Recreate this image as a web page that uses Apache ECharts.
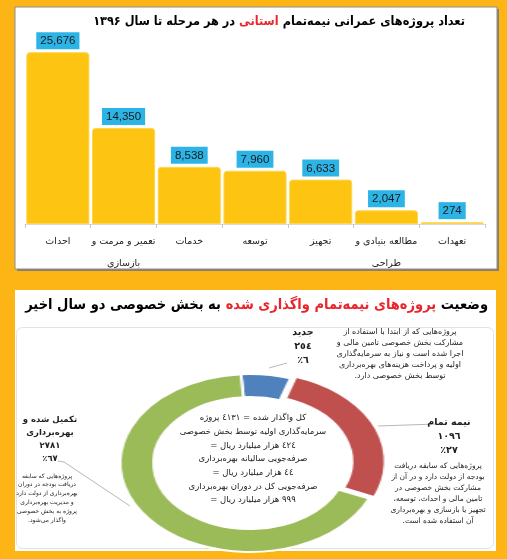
<!DOCTYPE html>
<html><head><meta charset="utf-8">
<script src="https://cdn.jsdelivr.net/npm/echarts@6.0.0/dist/echarts.min.js"></script>
<style>
html,body{margin:0;padding:0;overflow:hidden;background:#FDB515;width:507px;height:559px}
#main{position:absolute;left:0;top:0;width:507px;height:559px}
#donut{position:absolute;left:150px;top:363px;width:200px;height:200px;transform:scaleX(1.46);transform-origin:50% 50%}
</style></head>
<body><div id="main"></div><div id="donut"></div>
<script>
// ---------- data ----------
const barCategories = ['احداث', 'تعمیر و مرمت و\nبازسازی', 'خدمات', 'توسعه', 'تجهیز', 'مطالعه بنیادی و\nطراحی', 'تعهدات'];
const barValues = [25676, 14350, 8538, 7960, 6633, 2047, 274];

const pieNames = ['جدید', 'نیمه تمام', 'تکمیل شده و\nبهره\u200cبرداری'];
const pieValues = [254, 1096, 2781];
const pieColors = ['#4F81BD', '#C0504D', '#9BBB59'];

const summaryFigures = [424, 44, 999]; // هزار میلیارد ریال

// title pieces in reading order (right to left); the middle one is red
const title1 = ['تعداد پروژه\u200cهای عمرانی نیمه\u200cتمام', 'استانی', 'در هر مرحله تا سال ۱۳۹۶'];
const title2 = ['وضعیت', 'پروژه\u200cهای نیمه\u200cتمام واگذاری شده', 'به بخش خصوصی دو سال اخیر'];

const RLM = '\u200F';
const noteNew = 'پروژه\u200cهایی که از ابتدا با استفاده از\nمشارکت بخش خصوصی تامین مالی و\nاجرا شده است و نیاز به سرمایه\u200cگذاری\nاولیه و پرداخت هزینه\u200cهای بهره\u200cبرداری\nتوسط بخش خصوصی دارد.' + RLM;
const noteHalf = 'پروژه\u200cهایی که سابقه دریافت\nبودجه از دولت دارد و در آن از\nمشارکت بخش خصوصی در\nتامین مالی و احداث، توسعه،' + RLM + '\nتجهیز یا بازسازی و بهره\u200cبرداری\nآن استفاده شده است.' + RLM;
const noteDone = 'پروژه\u200cهایی که سابقه\nدریافت بودجه در دوران\nبهره\u200cبرداری از دولت دارد\nو مدیریت بهره\u200cبرداری\nپروژه به بخش خصوصی\nواگذار می\u200cشود.' + RLM;

// ---------- helpers ----------
const toAr = n => String(n).replace(/\d/g, d => '٠١٢٣٤٥٦٧٨٩'[d]);
const FA = "'DejaVu Sans', sans-serif";
const FAC = "'DejaVu Sans Condensed', 'DejaVu Sans', sans-serif";
const total = pieValues.reduce((a, b) => a + b, 0);
const pct = pieValues.map(v => Math.round(v / total * 100));

const centerText = [
  'کل واگذار شده = ' + toAr(total) + ' پروژه',
  'سرمایه\u200cگذاری اولیه توسط بخش خصوصی',
  '= ' + toAr(summaryFigures[0]) + ' هزار میلیارد ریال',
  'صرفه\u200cجویی سالیانه بهره\u200cبرداری',
  '= ' + toAr(summaryFigures[1]) + ' هزار میلیارد ریال',
  'صرفه\u200cجویی کل در دوران بهره\u200cبرداری',
  '= ' + toAr(summaryFigures[2]) + ' هزار میلیارد ریال'
].join('\n');

const sliceLabel = i => pieNames[i] + '\n' + toAr(pieValues[i]) + '\n٪' + toAr(pct[i]);

function txt(x, y, text, size, opts) {
  opts = opts || {};
  return {
    type: 'text', z: 5, silent: true,
    style: Object.assign({
      x: x, y: y, text: text, align: 'center', verticalAlign: 'middle',
      fontFamily: FA, fontSize: size, fill: '#1F1F1F'
    }, opts)
  };
}

const mctx = document.createElement('canvas').getContext('2d');
function measure(t, size, fam) { mctx.font = 'bold ' + size + 'px ' + fam; return mctx.measureText(t).width; }
// lay out a right-to-left title made of coloured pieces, fitted to a width
function titlePieces(segs, colors, right, width, y, fam) {
  const base = 20;
  const ws = segs.map(s => measure(s, base, fam));
  const gap = measure(' ', base, fam);
  const tot = ws.reduce((a, b) => a + b, 0) + gap * (segs.length - 1);
  const k = width / tot;
  let x = right;
  return segs.map((s, i) => {
    const el = { type: 'text', z: 5, silent: true, style: { x: x, y: y, text: s, align: 'right', verticalAlign: 'middle', fontFamily: fam, fontWeight: 'bold', fontSize: base * k, fill: colors[i] } };
    x -= (ws[i] + gap) * k;
    return el;
  });
}

const main = echarts.init(document.getElementById('main'));
main.setOption({
  animation: false,
  backgroundColor: '#FDB515',
  grid: { left: 25, right: 22, top: 50, bottom: 335 },
  xAxis: {
    type: 'category', data: barCategories,
    axisLine: { lineStyle: { color: '#D9D9D9' } },
    axisTick: { show: true, length: 4, lineStyle: { color: '#C8C8C8' } },
    axisLabel: { interval: 0, fontFamily: FA, fontSize: 9.5, color: '#1A1A1A', margin: 7, lineHeight: 22 }
  },
  yAxis: { type: 'value', min: 0, max: 26000, show: false },
  series: [{
    type: 'bar', data: barValues, barCategoryGap: '4%',
    itemStyle: { color: '#FDC412', borderColor: '#FFD54F', borderWidth: 1, borderRadius: [3, 3, 0, 0] },
    label: {
      show: true, position: 'top', distance: 3,
      backgroundColor: '#2DB4E6', padding: [3, 4, 2, 4],
      color: '#1A1A1A', fontFamily: "'Liberation Sans', sans-serif", fontSize: 11.5,
      formatter: p => p.value.toLocaleString('en-US')
    }
  }],
  graphic: [
    { type: 'rect', z: 0, silent: true, shape: { x: 17, y: 9, width: 482, height: 262 }, style: { fill: '#8A7F6A' } },
    { type: 'rect', z: 0, silent: true, shape: { x: 15, y: 7, width: 482, height: 262 }, style: { fill: '#FFFFFF', stroke: '#8C8C8C', lineWidth: 1 } },
    { type: 'rect', z: 0, silent: true, shape: { x: 15, y: 290, width: 481, height: 261 }, style: { fill: '#FFFFFF' } },
    { type: 'rect', z: 0, silent: true, shape: { x: 16.5, y: 327.5, width: 477, height: 221, r: 6 }, style: { fill: '#FFFFFF', stroke: '#E2E2E2', lineWidth: 1 } },
    ...titlePieces(title1, ['#000000', '#E8262B', '#000000'], 465, 372, 22, FAC),
    ...titlePieces(title2, ['#000000', '#E8262B', '#000000'], 488, 463, 305, FAC),
    // slice labels
    txt(303, 347, sliceLabel(0), 9.5, { fontWeight: 'bold', lineHeight: 14 }),
    txt(449, 437, sliceLabel(1), 9.5, { fontWeight: 'bold', lineHeight: 14 }),
    txt(50, 439, sliceLabel(2), 8.5, { fontWeight: 'bold', lineHeight: 13 }),
    // notes
    txt(400, 354, noteNew, 8, { lineHeight: 10.8 }),
    txt(438, 494, noteHalf, 7.5, { lineHeight: 11 }),
    txt(47, 498, noteDone, 6, { lineHeight: 8.8 }),
    // center text
    txt(253, 459, centerText, 8.5, { lineHeight: 13.7, fill: '#222222' }),
    // leader lines
    { type: 'polyline', z: 4, silent: true, shape: { points: [[269, 368], [287, 363]] }, style: { stroke: '#A6A6A6', lineWidth: 0.8, fill: null } },
    { type: 'polyline', z: 4, silent: true, shape: { points: [[378, 426], [436, 424]] }, style: { stroke: '#A6A6A6', lineWidth: 0.8, fill: null } },
    { type: 'polyline', z: 4, silent: true, shape: { points: [[58, 461], [64, 462], [130, 506]] }, style: { stroke: '#A6A6A6', lineWidth: 0.8, fill: null } }
  ]
});

const donut = echarts.init(document.getElementById('donut'));
donut.setOption({
  animation: false,
  series: [{
    type: 'pie', radius: [66, 89], center: ['50%', '50%'],
    startAngle: 94, clockwise: true,
    selectedMode: 'multiple', selectedOffset: 4,
    label: { show: false }, labelLine: { show: false },
    emphasis: { disabled: true },
    itemStyle: { borderColor: '#FFFFFF', borderWidth: 2 },
    data: pieNames.map((n, i) => ({ name: n, value: pieValues[i], selected: i === 1, itemStyle: { color: pieColors[i] } }))
  }]
});
</script>
</body></html>
